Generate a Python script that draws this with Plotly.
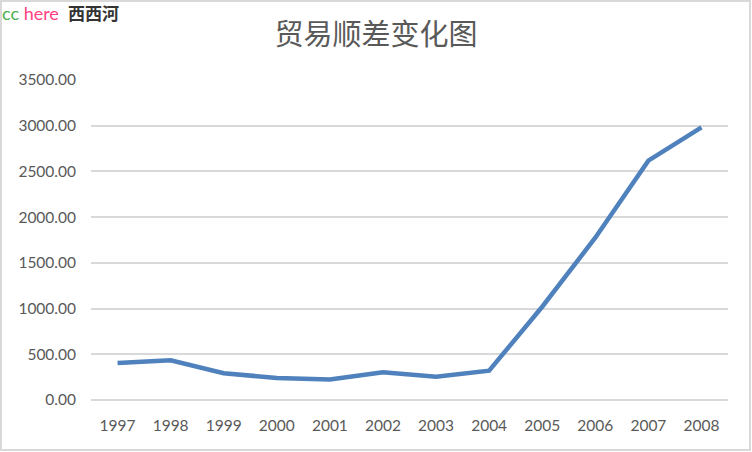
import plotly.graph_objects as go

years = ["1997", "1998", "1999", "2000", "2001", "2002", "2003", "2004", "2005", "2006", "2007", "2008"]
surplus = [404.2, 434.8, 292.3, 241.1, 225.5, 304.3, 254.7, 320.9, 1020.0, 1775.0, 2618.0, 2981.0]
y_ticks = [0, 500, 1000, 1500, 2000, 2500, 3000, 3500]

W, H = 752, 452
L, R, T, B = 91, 24, 80, 52
pw, ph = W - L - R, H - T - B

fig = go.Figure()
fig.add_trace(go.Scatter(
    x=years, y=surplus, mode="lines",
    line=dict(color="#4F81BD", width=4.5),
    hoverinfo="skip", showlegend=False,
))

def px2paper_x(p):
    return (p - L) / pw

def px2paper_y(p):
    return 1 - (p - T) / ph

fig.update_layout(
    width=W, height=H,
    margin=dict(l=L, r=R, t=T, b=B),
    paper_bgcolor="white", plot_bgcolor="white",
    title=dict(text="贸易顺差变化图", x=0.5, xanchor="center", y=1 - 35 / H, yanchor="middle",
               font=dict(family="Noto Sans CJK SC", size=29, color="#595959")),
    xaxis=dict(type="category", showgrid=False, zeroline=False, showline=False,
               ticks="", ticklabelstandoff=14,
               tickfont=dict(family="Lato", size=15.5, color="#595959"),
               range=[-0.5, len(years) - 0.5], fixedrange=True),
    yaxis=dict(range=[0, 3500], tickvals=y_ticks, tickformat=".2f",
               showgrid=True, gridcolor="#D9D9D9", gridwidth=1.5,
               zeroline=True, zerolinecolor="#D9D9D9", zerolinewidth=1.5,
               showline=False, ticks="", ticklabelstandoff=14,
               tickfont=dict(family="Lato", size=15.5, color="#595959"), fixedrange=True),
    font=dict(family="Lato"),
)

fig.add_shape(type="rect", xref="paper", yref="paper",
              x0=px2paper_x(1), x1=px2paper_x(750), y0=px2paper_y(1), y1=px2paper_y(450),
              line=dict(color="#D9D9D9", width=2), fillcolor="rgba(0,0,0,0)", layer="below")

fig.add_annotation(
    text='<span style="color:#4CAF50">cc </span><span style="color:#FF4081">here</span>  <b><span style="color:#333333;font-family:Noto Sans CJK SC;font-size:17px">西西河</span></b>',
    xref="paper", yref="paper", x=px2paper_x(0), y=px2paper_y(13), xanchor="left", yanchor="middle",
    showarrow=False, font=dict(family="Lato", size=18),
)

fig.write_html("out.html")
